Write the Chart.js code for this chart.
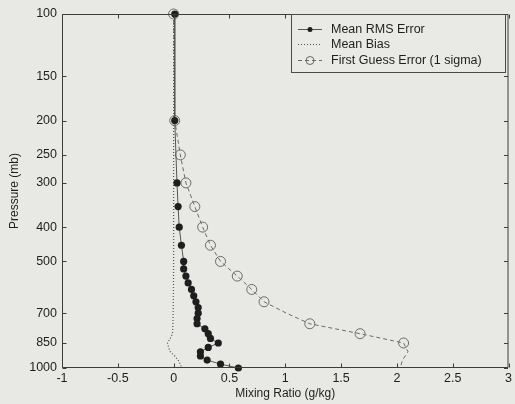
<!DOCTYPE html>
<html><head><meta charset="utf-8">
<script src="https://cdn.jsdelivr.net/npm/chart.js@4/dist/chart.umd.min.js"></script>
<style>html,body{margin:0;padding:0;background:#e8e8e4;}canvas{display:block;}</style>
</head><body>
<canvas id="c" width="515" height="404"></canvas>
<script>
// ---- data ----
const yTickLabels = [100, 150, 200, 250, 300, 400, 500, 700, 850, 1000];

const rmsPressure = [100, 200, 300, 350, 400, 450, 500, 525, 550, 575, 600, 625, 650, 675, 700, 725, 750, 775, 800, 825, 850, 875, 900, 925, 950, 975, 1000];
const rmsValues   = [0.01, 0.01, 0.03, 0.04, 0.05, 0.07, 0.09, 0.09, 0.11, 0.13, 0.16, 0.18, 0.20, 0.22, 0.22, 0.21, 0.21, 0.28, 0.31, 0.33, 0.40, 0.31, 0.24, 0.24, 0.30, 0.42, 0.58];

const biasPressure = [100, 200, 300, 400, 500, 600, 700, 750, 800, 825, 850, 875, 900, 925, 950, 975, 1000];
const biasValues   = [0.0, 0.0, 0.0, 0.0, 0.0, -0.002, -0.004, -0.006, -0.01, -0.03, -0.055, -0.045, -0.03, 0.01, 0.04, 0.06, 0.07];

const fgPressure = [100, 200, 250, 300, 350, 400, 450, 500, 550, 600, 650, 700, 750, 800, 850, 900, 950, 1000];
const fgValues   = [0.0, 0.01, 0.06, 0.11, 0.19, 0.26, 0.33, 0.42, 0.57, 0.70, 0.81, 1.01, 1.22, 1.67, 2.06, 2.10, 2.05, 2.03];
const fgUnmarked = [700, 900, 950, 1000];

const seriesLabels = ['Mean RMS Error', 'Mean Bias', 'First Guess Error (1 sigma)'];

const FONT = 'Arial, "Liberation Sans", Helvetica, sans-serif';
const INK = '#1e1e1e';

function pts(xs, ps) { return xs.map((v, i) => ({ x: v, y: ps[i] })); }

const framePlugin = {
  id: 'frame',
  afterDraw(chart) {
    const { ctx, chartArea: a, scales } = chart;
    ctx.save();
    ctx.strokeStyle = '#3c3c3c';
    ctx.lineWidth = 1;
    const L = a.left + 0.5, R = a.right - 0.5, T = a.top + 0.5, B = a.bottom - 0.5;
    ctx.beginPath();
    ctx.rect(L, T, R - L, B - T);
    const tl = 4;
    yTickLabels.forEach(v => {
      const y = Math.round(scales.y.getPixelForValue(v)) + 0.5;
      ctx.moveTo(L, y); ctx.lineTo(L + tl, y);
      ctx.moveTo(R - tl, y); ctx.lineTo(R, y);
    });
    scales.x.ticks.forEach(t => {
      const x = Math.round(scales.x.getPixelForValue(t.value)) + 0.5;
      ctx.moveTo(x, B); ctx.lineTo(x, B - tl);
      ctx.moveTo(x, T); ctx.lineTo(x, T + tl);
    });
    ctx.stroke();

    // legend box
    const bx = 291.5, by = 14.5, bw = 214, bh = 58;
    ctx.fillStyle = '#e9e9e5';
    ctx.fillRect(bx, by, bw, bh);
    ctx.strokeStyle = '#4a4a4a';
    ctx.strokeRect(bx, by, bw, bh);
    const rows = [29, 44, 60];
    const x0 = 298, x1 = 322, xm = 310, tx = 331;
    ctx.font = '12.5px ' + FONT;
    ctx.textBaseline = 'middle';
    ctx.textAlign = 'left';
    chart.data.datasets.forEach((ds, i) => {
      const y = rows[i] + 0.5;
      ctx.save();
      ctx.strokeStyle = ds.borderColor;
      ctx.lineWidth = ds.borderWidth;
      ctx.setLineDash(ds.borderDash || []);
      ctx.beginPath(); ctx.moveTo(x0, y); ctx.lineTo(x1, y); ctx.stroke();
      ctx.setLineDash([]);
      if (i === 0) {
        ctx.fillStyle = ds.pointBackgroundColor;
        ctx.beginPath(); ctx.arc(xm, y, 2.5, 0, Math.PI * 2); ctx.fill();
      } else if (i === 2) {
        ctx.strokeStyle = ds.pointBorderColor;
        ctx.beginPath(); ctx.arc(xm, y, 4, 0, Math.PI * 2); ctx.stroke();
      }
      ctx.restore();
      ctx.fillStyle = INK;
      ctx.fillText(ds.label, tx, y);
    });
    ctx.restore();
  }
};

new Chart(document.getElementById('c'), {
  type: 'scatter',
  data: {
    datasets: [
      {
        label: seriesLabels[0],
        data: pts(rmsValues, rmsPressure),
        showLine: true,
        clip: false,
        borderColor: '#555',
        borderWidth: 1,
        pointRadius: 3.6,
        pointBackgroundColor: '#1e1e1e',
        pointBorderColor: '#1e1e1e',
        pointBorderWidth: 0
      },
      {
        label: seriesLabels[1],
        data: pts(biasValues, biasPressure),
        showLine: true,
        clip: false,
        borderColor: '#505050',
        borderWidth: 1.2,
        borderDash: [1, 2],
        pointRadius: 0
      },
      {
        label: seriesLabels[2],
        data: pts(fgValues, fgPressure),
        showLine: true,
        clip: false,
        borderColor: '#6a6a6a',
        borderWidth: 1,
        borderDash: [4, 3],
        pointRadius: ctx => (ctx.raw && fgUnmarked.includes(ctx.raw.y)) ? 0 : 5,
        pointBackgroundColor: 'rgba(0,0,0,0)',
        pointBorderColor: '#6a6a6a',
        pointBorderWidth: 1
      }
    ]
  },
  options: {
    responsive: false,
    animation: false,
    devicePixelRatio: 1,
    layout: { autoPadding: false, padding: { top: 14, right: 4, left: 0, bottom: 0 } },
    plugins: { legend: { display: false }, tooltip: { enabled: false } },
    scales: {
      x: {
        type: 'linear',
        min: -1, max: 3,
        grid: { display: false, drawTicks: false },
        border: { display: false },
        ticks: { stepSize: 0.5, color: INK, font: { family: FONT, size: 12.5 }, padding: 3, maxRotation: 0,
                 callback: v => String(Math.round(v * 100) / 100) },
        title: { display: true, text: 'Mixing Ratio (g/kg)', color: INK, font: { family: FONT, size: 12 }, padding: { top: 0, bottom: 3 } },
        afterFit(s) { s.height = 36; }
      },
      y: {
        type: 'logarithmic',
        reverse: true,
        min: 100, max: 1000,
        grid: { display: false, drawTicks: false },
        border: { display: false },
        afterBuildTicks(s) { s.ticks = yTickLabels.map(v => ({ value: v })); },
        ticks: { color: INK, font: { family: FONT, size: 12.5 }, padding: 5, autoSkip: false, callback: v => String(v) },
        title: { display: true, text: 'Pressure (mb)', color: INK, font: { family: FONT, size: 12 }, padding: { top: 7, bottom: 0 } },
        afterFit(s) { s.width = 62; }
      }
    }
  },
  plugins: [framePlugin]
});
</script>
</body></html>
